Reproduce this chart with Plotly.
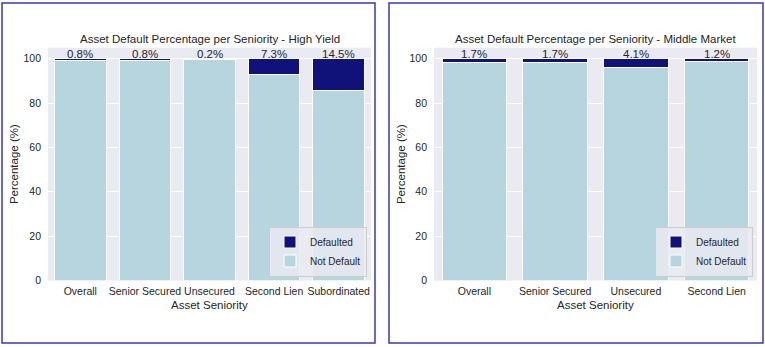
import plotly.graph_objects as go

# ---- data ----
hy_categories = ["Overall", "Senior Secured", "Unsecured", "Second Lien", "Subordinated"]
hy_default = [0.8, 0.8, 0.2, 7.3, 14.5]
mm_categories = ["Overall", "Senior Secured", "Unsecured", "Second Lien"]
mm_default = [1.7, 1.7, 4.1, 1.2]
y_ticks = [0, 20, 40, 60, 80, 100]
hy_title = "Asset Default Percentage per Seniority - High Yield"
mm_title = "Asset Default Percentage per Seniority - Middle Market"

W, H = 765, 347
FONT = "Liberation Sans, Arial, sans-serif"
TXT = "#262626"
LIGHT = "#B6D5DF"
DARK = "#11117A"
BG = "#EAEAF2"

def px_x(p):
    return p / W

def px_y(p):
    return 1 - p / H

fig = go.Figure()

panels = [
    dict(cats=hy_categories, d=hy_default, xa="x", ya="y", xref="x", yref="y",
         legend="legend", left=48, right=371, bl=2, br=375, title=hy_title, ytx=14),
    dict(cats=mm_categories, d=mm_default, xa="x2", ya="y2", xref="x2", yref="y2",
         legend="legend2", left=434, right=757, bl=389, br=763, title=mm_title, ytx=401),
]

top_px, bot_px = 47.7, 280.5

for i, p in enumerate(panels):
    not_def = [round(100 - v, 2) for v in p["d"]]
    fig.add_trace(go.Bar(
        x=p["cats"], y=not_def, name="Not Default", xaxis=p["xa"], yaxis=p["ya"],
        marker=dict(color=LIGHT, line=dict(color="white", width=1)),
        legend=p["legend"], hoverinfo="skip"))
    fig.add_trace(go.Bar(
        x=p["cats"], y=p["d"], name="Defaulted", xaxis=p["xa"], yaxis=p["ya"],
        marker=dict(color=DARK, line=dict(color="white", width=1)),
        legend=p["legend"], hoverinfo="skip"))
    # value labels
    for c, v in zip(p["cats"], p["d"]):
        fig.add_annotation(x=c, y=100, xref=p["xref"], yref=p["yref"],
                           text=f"{v}%", showarrow=False, yanchor="bottom", yshift=-3,
                           font=dict(family=FONT, size=11.5, color=TXT))
    # title
    cx = (p["left"] + p["right"]) / 2
    fig.add_annotation(x=px_x(cx), y=px_y(39), xref="paper", yref="paper",
                       text=p["title"], showarrow=False, xanchor="center", yanchor="middle",
                       font=dict(family=FONT, size=11.5, color=TXT))
    # axis titles
    fig.add_annotation(x=px_x(cx), y=px_y(305), xref="paper", yref="paper",
                       text="Asset Seniority", showarrow=False, xanchor="center", yanchor="middle",
                       font=dict(family=FONT, size=11.5, color=TXT))
    fig.add_annotation(x=px_x(p["ytx"]), y=px_y((top_px + bot_px) / 2), xref="paper", yref="paper",
                       text="Percentage (%)", showarrow=False, textangle=-90,
                       xanchor="center", yanchor="middle",
                       font=dict(family=FONT, size=11.5, color=TXT))
    # panel border
    fig.add_shape(type="rect", xref="paper", yref="paper",
                  x0=px_x(p["bl"]), x1=px_x(p["br"]), y0=px_y(343), y1=px_y(3),
                  line=dict(color="#3838BC", width=1.5), fillcolor="rgba(0,0,0,0)", layer="above")
    suffix = "" if i == 0 else "2"
    fig.layout["xaxis" + suffix] = dict(
        domain=[px_x(p["left"]), px_x(p["right"])], anchor="y" + suffix,
        showgrid=False, zeroline=False, ticks="", showline=False, automargin=False,
        tickangle=0, tickfont=dict(family=FONT, size=10.5, color=TXT), ticklabelstandoff=3)
    fig.layout["yaxis" + suffix] = dict(
        domain=[px_y(bot_px), px_y(top_px)], anchor="x" + suffix, range=[0, 105],
        tickvals=y_ticks, showgrid=True, gridcolor="white", gridwidth=1,
        zeroline=False, ticks="", showline=False, automargin=False,
        tickfont=dict(family=FONT, size=10.5, color=TXT), ticklabelstandoff=6)
    fig.layout[p["legend"]] = dict(
        x=px_x(p["right"] - 4), y=px_y(bot_px - 4), xanchor="right", yanchor="bottom",
        bgcolor="rgba(234,234,242,0.85)", bordercolor="#CCCCCC", borderwidth=1,
        traceorder="reversed", font=dict(family=FONT, size=10, color=TXT),
        itemwidth=30, tracegroupgap=0)

fig.update_layout(
    width=W, height=H, margin=dict(l=0, r=0, t=0, b=0),
    paper_bgcolor="white", plot_bgcolor=BG, barmode="stack", bargap=0.2,
    showlegend=True, font=dict(family=FONT, color=TXT))

fig.write_html("out.html")
